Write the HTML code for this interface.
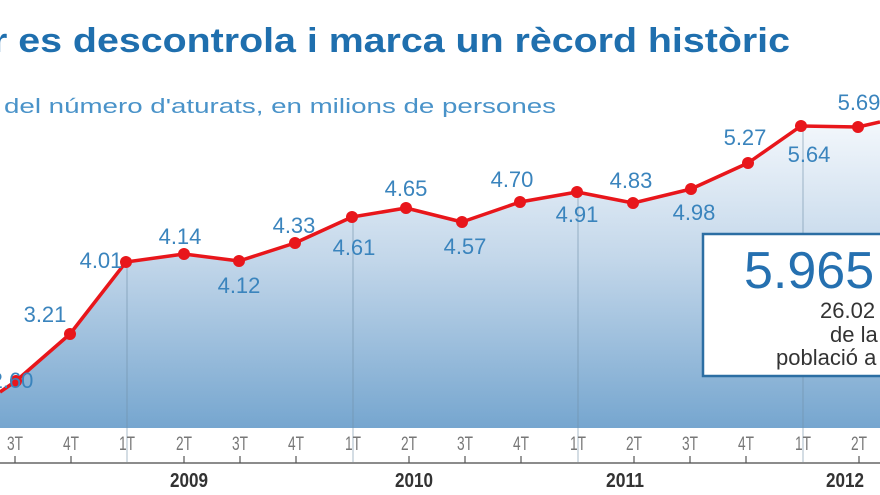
<!DOCTYPE html>
<html><head><meta charset="utf-8"><style>
html,body{margin:0;padding:0;background:#fff;}
svg{display:block;}
</style></head><body>
<svg width="880" height="495" viewBox="0 0 880 495" xmlns="http://www.w3.org/2000/svg" font-family="Liberation Sans, Arial, sans-serif">
<defs>
<linearGradient id="g" gradientUnits="userSpaceOnUse" x1="0" y1="120" x2="0" y2="428">
<stop offset="0" stop-color="#f4f8fc"/>
<stop offset="0.45" stop-color="#c3d7ea"/>
<stop offset="1" stop-color="#76a6cf"/>
</linearGradient>
</defs>
<rect width="880" height="495" fill="#fff"/>
<text x="-8" y="52" font-size="34" font-weight="bold" fill="#1f6fae" textLength="798" lengthAdjust="spacingAndGlyphs">r es descontrola i marca un rècord històric</text>
<text x="4" y="113" font-size="20" fill="#4a93c9" textLength="552" lengthAdjust="spacingAndGlyphs">del número d'aturats, en milions de persones</text>
<polygon fill="url(#g)" points="0,392 16,381 70,334 126,262 184,254 239,261 295,243 352,217 406,208 462,222 520,202 577,192 633,203 691,189 748,163 801,126 858,127 880,122 880,428 0,428"/>
<g stroke="#6f8fa8" stroke-width="1" opacity="0.6">
<line x1="127" y1="262" x2="127" y2="462"/>
<line x1="353" y1="217" x2="353" y2="462"/>
<line x1="578" y1="192" x2="578" y2="462"/>
<line x1="803" y1="126" x2="803" y2="462"/>
</g>
<line x1="0" y1="463" x2="880" y2="463" stroke="#666" stroke-width="1.5"/>
<g stroke="#555" stroke-width="1.2">
<line x1="15" y1="456" x2="15" y2="463"/><line x1="71" y1="456" x2="71" y2="463"/>
<line x1="184" y1="456" x2="184" y2="463"/><line x1="240" y1="456" x2="240" y2="463"/><line x1="296" y1="456" x2="296" y2="463"/>
<line x1="409" y1="456" x2="409" y2="463"/><line x1="465" y1="456" x2="465" y2="463"/><line x1="521" y1="456" x2="521" y2="463"/>
<line x1="634" y1="456" x2="634" y2="463"/><line x1="690" y1="456" x2="690" y2="463"/><line x1="746" y1="456" x2="746" y2="463"/>
<line x1="859" y1="456" x2="859" y2="463"/>
</g>
<g font-size="19" fill="#777" text-anchor="middle">
<text x="15" y="450" textLength="16" lengthAdjust="spacingAndGlyphs">3T</text><text x="71" y="450" textLength="16" lengthAdjust="spacingAndGlyphs">4T</text><text x="127" y="450" textLength="16" lengthAdjust="spacingAndGlyphs">1T</text><text x="184" y="450" textLength="16" lengthAdjust="spacingAndGlyphs">2T</text><text x="240" y="450" textLength="16" lengthAdjust="spacingAndGlyphs">3T</text><text x="296" y="450" textLength="16" lengthAdjust="spacingAndGlyphs">4T</text><text x="353" y="450" textLength="16" lengthAdjust="spacingAndGlyphs">1T</text><text x="409" y="450" textLength="16" lengthAdjust="spacingAndGlyphs">2T</text><text x="465" y="450" textLength="16" lengthAdjust="spacingAndGlyphs">3T</text><text x="521" y="450" textLength="16" lengthAdjust="spacingAndGlyphs">4T</text><text x="578" y="450" textLength="16" lengthAdjust="spacingAndGlyphs">1T</text><text x="634" y="450" textLength="16" lengthAdjust="spacingAndGlyphs">2T</text><text x="690" y="450" textLength="16" lengthAdjust="spacingAndGlyphs">3T</text><text x="746" y="450" textLength="16" lengthAdjust="spacingAndGlyphs">4T</text><text x="803" y="450" textLength="16" lengthAdjust="spacingAndGlyphs">1T</text><text x="859" y="450" textLength="16" lengthAdjust="spacingAndGlyphs">2T</text>
</g>
<g font-size="20" font-weight="bold" fill="#333" text-anchor="middle">
<text x="189" y="487" textLength="38" lengthAdjust="spacingAndGlyphs">2009</text><text x="414" y="487" textLength="38" lengthAdjust="spacingAndGlyphs">2010</text><text x="625" y="487" textLength="38" lengthAdjust="spacingAndGlyphs">2011</text><text x="845" y="487" textLength="38" lengthAdjust="spacingAndGlyphs">2012</text>
</g>
<polyline fill="none" stroke="#e8161b" stroke-width="3.5" stroke-linejoin="round" points="0,392 16,381 70,334 126,262 184,254 239,261 295,243 352,217 406,208 462,222 520,202 577,192 633,203 691,189 748,163 801,126 858,127 880,122"/>
<g fill="#e8161b">
<circle cx="16" cy="381" r="6"/><circle cx="70" cy="334" r="6"/><circle cx="126" cy="262" r="6"/><circle cx="184" cy="254" r="6"/><circle cx="239" cy="261" r="6"/><circle cx="295" cy="243" r="6"/><circle cx="352" cy="217" r="6"/><circle cx="406" cy="208" r="6"/><circle cx="462" cy="222" r="6"/><circle cx="520" cy="202" r="6"/><circle cx="577" cy="192" r="6"/><circle cx="633" cy="203" r="6"/><circle cx="691" cy="189" r="6"/><circle cx="748" cy="163" r="6"/><circle cx="801" cy="126" r="6"/><circle cx="858" cy="127" r="6"/>
</g>
<g font-size="22" fill="#3a84bd" text-anchor="middle">
<text x="12" y="388">2.60</text><text x="45" y="322">3.21</text><text x="101" y="268">4.01</text><text x="180" y="244">4.14</text><text x="239" y="293">4.12</text><text x="294" y="233">4.33</text><text x="354" y="255">4.61</text><text x="406" y="196">4.65</text><text x="465" y="254">4.57</text><text x="512" y="187">4.70</text><text x="577" y="222">4.91</text><text x="631" y="188">4.83</text><text x="694" y="220">4.98</text><text x="745" y="145">5.27</text><text x="809" y="162">5.64</text><text x="859" y="110">5.69</text>
</g>
<rect x="703" y="234" width="190" height="142" fill="#fff" stroke="#2c6ea3" stroke-width="2.5"/>
<text x="744" y="288" font-size="52" fill="#2570b0">5.965</text>
<g font-size="22" fill="#333">
<text x="820" y="318">26.02</text><text x="830" y="342">de la</text><text x="776" y="365">població a</text>
</g>
</svg>
</body></html>
